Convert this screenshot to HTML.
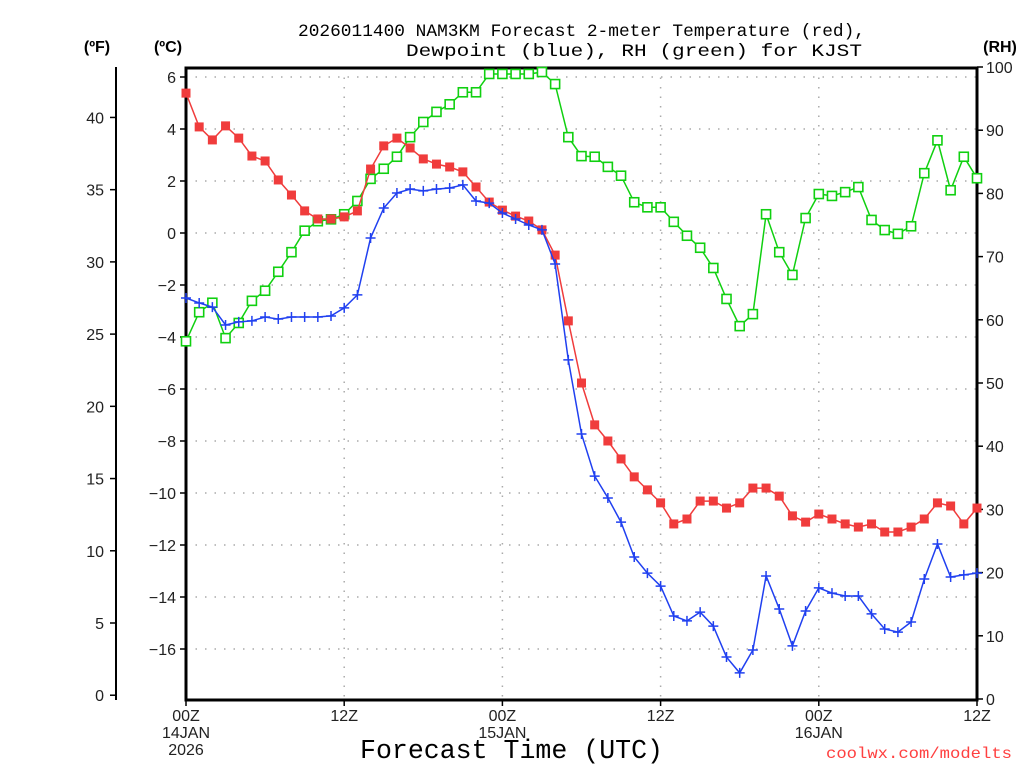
<!DOCTYPE html>
<html><head><meta charset="utf-8"><style>
html,body{margin:0;padding:0;background:#fff;}
svg{display:block;font-family:"Liberation Sans",sans-serif;}
.mono{font-family:"Liberation Mono",monospace;}
</style></head><body>
<svg id="chart" width="1024" height="768" viewBox="0 0 1024 768" xmlns="http://www.w3.org/2000/svg">
<text class="mono" x="298" y="36" font-size="17.5" text-anchor="start" fill="#000" textLength="567" lengthAdjust="spacingAndGlyphs">2026011400 NAM3KM Forecast 2-meter Temperature (red),</text>
<text class="mono" x="406" y="56" font-size="17.5" text-anchor="start" fill="#000" textLength="456" lengthAdjust="spacingAndGlyphs">Dewpoint (blue), RH (green) for KJST</text>
<text x="97" y="52" font-size="16" font-weight="bold" text-anchor="middle">(ºF)</text>
<text x="168" y="52" font-size="16" font-weight="bold" text-anchor="middle">(ºC)</text>
<text x="1000" y="52" font-size="16" font-weight="bold" text-anchor="middle">(RH)</text>
<text class="mono" x="360" y="758" font-size="26.5" text-anchor="start" textLength="303" lengthAdjust="spacingAndGlyphs">Forecast Time (UTC)</text>
<text class="mono" x="826" y="758" font-size="16" text-anchor="start" fill="#ff4040" textLength="186" lengthAdjust="spacingAndGlyphs">coolwx.com/modelts</text>
<g id="grid"></g><g id="axes"></g><g id="series"></g>
</svg>
<script>
const hours=[];for(let i=0;i<=60;i++)hours.push(i);
const tempC=[5.38,4.08,3.58,4.12,3.65,2.96,2.77,2.04,1.46,0.85,0.54,0.54,0.62,0.85,2.46,3.35,3.65,3.27,2.85,2.65,2.54,2.35,1.77,1.19,0.88,0.65,0.46,0.12,-0.85,-3.38,-5.77,-7.38,-8.0,-8.69,-9.38,-9.88,-10.38,-11.19,-11.0,-10.31,-10.31,-10.58,-10.38,-9.81,-9.81,-10.12,-10.88,-11.12,-10.81,-11.0,-11.19,-11.31,-11.19,-11.5,-11.5,-11.31,-11.0,-10.38,-10.5,-11.19,-10.58];
const dewC=[-2.5,-2.69,-2.85,-3.54,-3.42,-3.38,-3.23,-3.31,-3.23,-3.23,-3.23,-3.19,-2.88,-2.38,-0.19,0.96,1.54,1.69,1.62,1.69,1.73,1.85,1.23,1.15,0.77,0.54,0.31,0.12,-1.19,-4.88,-7.73,-9.35,-10.19,-11.12,-12.46,-13.08,-13.58,-14.73,-14.92,-14.58,-15.12,-16.31,-16.92,-16.04,-13.19,-14.46,-15.88,-14.54,-13.65,-13.85,-13.96,-13.96,-14.65,-15.23,-15.35,-14.96,-13.31,-11.96,-13.23,-13.15,-13.08];
const rh=[56.6,61.2,62.7,57.1,59.5,63.0,64.6,67.6,70.7,74.1,75.6,75.9,76.7,78.8,82.3,83.9,85.8,88.9,91.3,92.9,94.1,96.0,96.0,98.9,98.9,98.9,98.9,99.2,97.3,88.9,85.9,85.8,84.2,82.8,78.6,77.8,77.8,75.5,73.3,71.4,68.2,63.3,59.0,60.9,76.7,70.7,67.1,76.1,79.9,79.6,80.2,81.0,75.8,74.2,73.6,74.8,83.2,88.4,80.5,85.8,82.4];
const cTicks=[6,4,2,0,-2,-4,-6,-8,-10,-12,-14,-16];
const fTicks=[40,35,30,25,20,15,10,5,0];
const rhTicks=[100,90,80,70,60,50,40,30,20,10,0];
const xTickHours=[0,12,24,36,48,60];
const xTickLabels=[["00Z","14JAN","2026"],["12Z"],["00Z","15JAN"],["12Z"],["00Z","16JAN"],["12Z"]];

const L=186,R=977,T=68,B=700;
const xS=h=>L+(R-L)*h/60;
const yC=c=>233-26*c;
const yF=f=>yC((f-32)*5/9);
const yRH=r=>699-6.32*r;
const NS="http://www.w3.org/2000/svg";
function mk(tag,attrs,parent,text){const e=document.createElementNS(NS,tag);for(const k in attrs)e.setAttribute(k,attrs[k]);if(text!==undefined)e.textContent=text;parent.appendChild(e);return e;}
const grid=document.getElementById('grid'),axes=document.getElementById('axes'),ser=document.getElementById('series');

cTicks.forEach(c=>{
  const y=yC(c);
  const g=mk('line',{x1:L,x2:R,y1:y,y2:y,stroke:'#aaa','stroke-width':1.5,'stroke-dasharray':'1.5 8'},grid);
  
  
  const t=mk('line',{x1:L-6,x2:L,y1:y,y2:y,stroke:'#000','stroke-width':1.5},axes);
  
  
  const lb=mk('text',{x:176,y:y+6,'font-size':16,'text-anchor':'end',fill:'#222'},axes,c<0?'−'+(-c):String(c));
  
  
});
xTickHours.forEach((h,i)=>{
  const x=xS(h);
  if(h>0&&h<60){const g=mk('line',{x1:x,x2:x,y1:T,y2:B,stroke:'#aaa','stroke-width':1.5,'stroke-dasharray':'1.5 8'},grid);
  
  }
  const t=mk('line',{x1:x,x2:x,y1:B,y2:B+6,stroke:'#000','stroke-width':1.5},axes);
  
  
  xTickLabels[i].forEach((s,j)=>{
    const lb=mk('text',{x:x,y:721+j*17,'font-size':16,'text-anchor':'middle',fill:'#222'},axes,s);
    
    
  });
});
const fl=mk('line',{x1:116,x2:116,y1:67,y2:700,stroke:'#000','stroke-width':2},axes);


fTicks.forEach(f=>{
  const y=yF(f);
  const t=mk('line',{x1:110,x2:116,y1:y,y2:y,stroke:'#000','stroke-width':1.5},axes);
  
  
  const lb=mk('text',{x:104,y:y+6,'font-size':16,'text-anchor':'end',fill:'#222'},axes,String(f));
  
  
});
rhTicks.forEach(r=>{
  const y=yRH(r);
  const t=mk('line',{x1:R,x2:R+6,y1:y,y2:y,stroke:'#000','stroke-width':1.5},axes);
  
  
  const lb=mk('text',{x:986,y:y+6,'font-size':16,'text-anchor':'start',fill:'#222'},axes,String(r));
  
  
});
const box=mk('rect',{x:L,y:T,width:R-L,height:B-T,fill:'none',stroke:'#000','stroke-width':3},axes);



function drawLine(vals,yf,color,name){
  const pts=vals.map((v,i)=>xS(hours[i]).toFixed(1)+','+yf(v).toFixed(1)).join(' ');
  const pl=mk('polyline',{points:pts,fill:'none',stroke:color,'stroke-width':1.5},ser);
  
  
}
drawLine(rh,yRH,'#10d010','rh');
rh.forEach((v,i)=>{const m=mk('rect',{x:xS(hours[i])-4.5,y:yRH(v)-4.5,width:9,height:9,fill:'#fff',stroke:'#10d010','stroke-width':1.6},ser);
  
  });
drawLine(tempC,yC,'#f03c3c','temperature');
tempC.forEach((v,i)=>{const m=mk('rect',{x:xS(hours[i])-4.5,y:yC(v)-4.5,width:9,height:9,fill:'#f03c3c'},ser);
  
  });
drawLine(dewC,yC,'#2040f0','dewpoint');
dewC.forEach((v,i)=>{const x=xS(hours[i]),y=yC(v);
  const m=mk('path',{d:`M${x-5},${y}H${x+5}M${x},${y-5}V${y+5}`,stroke:'#2040f0','stroke-width':1.5,fill:'none'},ser);
  
  });
</script>
</body></html>
